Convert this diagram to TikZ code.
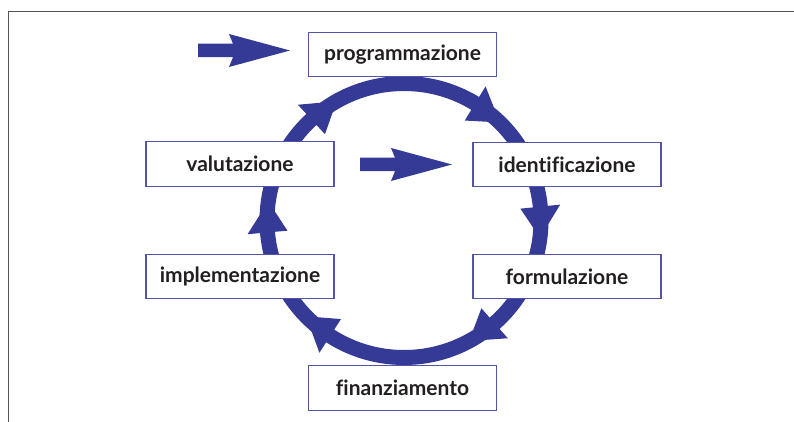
\documentclass[tikz,border=0pt]{standalone}
\usepackage{fontspec}
\setmainfont{Lato}[Ligatures=NoCommon]
\usetikzlibrary{calc}
\definecolor{ringblue}{RGB}{53,58,150}
\definecolor{boxblue}{RGB}{80,85,170}
\definecolor{txt}{RGB}{35,31,32}
\definecolor{framegray}{RGB}{85,85,85}
\tikzset{
  stage/.style={draw=boxblue, line width=1.1pt, fill=white, rectangle,
    minimum width=188pt, minimum height=44.5pt, inner sep=0pt,
    text=txt, font=\fontsize{21}{25}\selectfont\bfseries},
  ringline/.style={draw=ringblue, line width=15pt},
  ringhead/.style={fill=ringblue},
  fatarrow/.pic={
    \fill[ringblue] (0,-6.75) -- (35,-6.75) -- (31,-16.5) -- (92,0)
      -- (31,16.5) -- (35,6.75) -- (0,6.75) -- cycle;
  }
}
\begin{document}
\begin{tikzpicture}[x=1pt,y=-1pt]
\useasboundingbox (0,0) rectangle (794,422);
\fill[white] (0,0) rectangle (794,422);
% frame
\draw[framegray, line width=1.4pt] (8.7,422) -- (8.7,11.7) -- (794,11.7);
% ring
\coordinate (C) at (404,220.5);
\draw[ringline] (C) circle[radius=137];
\foreach \a in {-132.5,-58.7,-5.8,48.6,122.6,175} {
  \fill[ringhead, shift={(C)}] (\a:157) -- ({\a+13}:137) -- (\a:117) -- cycle;
}
% stages
\node[stage] (prog) at (402.5,54.5) {programmazione};
\node[stage] (val) at (240,164) {valutazione};
\node[stage] (ident) at (567,164.5) {identificazione};
\node[stage] (impl) at (240,276.5) {implementazione};
\node[stage] (form) at (567,276.5) {formulazione};
\node[stage] (fin) at (402.5,387.8) {finanziamento};
% straight arrows
\coordinate (a1) at (198,50.5);
\coordinate (a2) at (360,164.5);
\pic at (a1) {fatarrow};
\pic at (a2) {fatarrow};
\end{tikzpicture}
\end{document}
